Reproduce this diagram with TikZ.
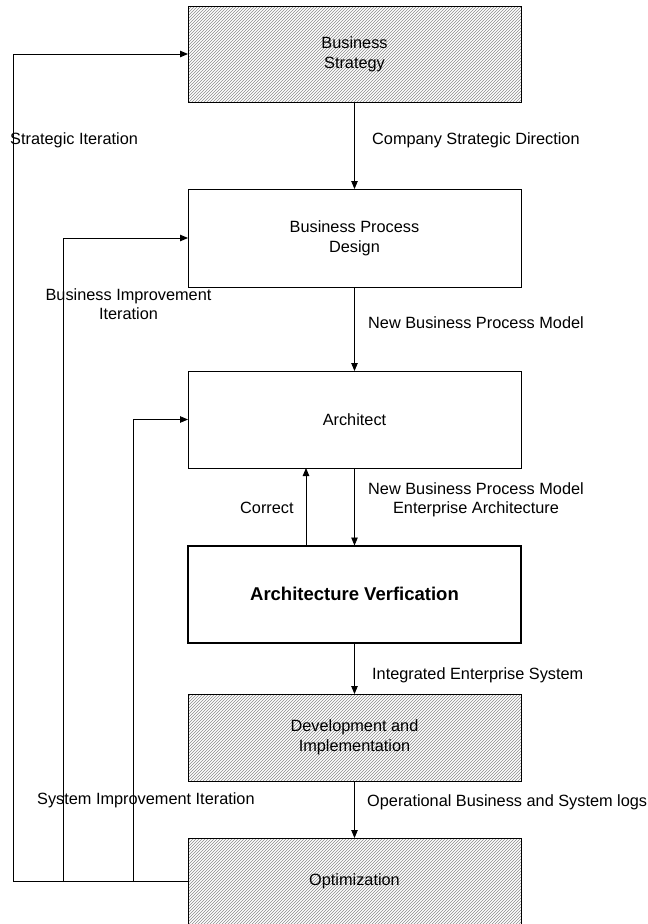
\documentclass[tikz,border=0pt]{standalone}
\usepackage{fontspec}
\setmainfont{Liberation Sans}
\usetikzlibrary{patterns,arrows.meta}
\begin{document}
\begin{tikzpicture}[x=1pt,y=-1pt,
  box/.style={draw=black, line width=1pt, minimum width=333pt, inner sep=0pt, outer sep=0pt, align=center, font=\fontsize{16.3}{20}\selectfont},
  hatch/.style={box, pattern=north east lines, pattern color=black!45},
  arr/.style={line width=0.9pt, -{Triangle[length=8pt,width=6.5pt]}},
  ln/.style={line width=0.9pt},
  lbl/.style={inner sep=0pt, align=center, font=\fontsize{16.3}{19}\selectfont}
]
\fill[white] (0,0) rectangle (648,924);
\useasboundingbox (0,0) rectangle (648,924);

\node[hatch, minimum height=96pt] (bs) at (354.5,54) {Business\\Strategy};
\node[box, minimum height=98pt] (bpd) at (354.5,238) {Business Process\\Design};
\node[box, minimum height=97pt] (arch) at (354.5,419.5) {Architect};
\node[box, line width=2pt, minimum height=97pt, font=\fontsize{18.5}{22}\selectfont\bfseries] (ver) at (354.5,594) {Architecture Verfication};
\node[hatch, minimum height=87pt] (dev) at (354.5,737.5) {Development and\\Implementation};
\node[hatch, minimum height=86pt] (opt) at (354.5,881) {Optimization};

% main flow
\draw[arr] (bs) -- (bpd);
\draw[arr] (bpd) -- (arch);
\draw[arr] (arch) -- (ver);
\draw[arr] (ver) -- (dev);
\draw[arr] (dev) -- (opt);

% correct
\coordinate (cx) at (306,0);
\draw[arr] (ver.north -| cx) -- (arch.south -| cx);

% feedback loops
\coordinate (l1) at (13,0);
\coordinate (l2) at (63,0);
\coordinate (l3) at (133,0);
\draw[ln] (opt.west) -- (opt.west -| l1);
\draw[arr] (opt.west -| l1) |- (bs.west);
\draw[arr] (opt.west -| l2) |- (bpd.west);
\draw[arr] (opt.west -| l3) |- (arch.west);

% labels
\node[lbl, anchor=west] (t1) at (10,140) {Strategic Iteration};
\node[lbl, anchor=west] (t2) at (372,140) {Company Strategic Direction};
\node[lbl] (t3) at (128.5,304) {Business Improvement\\Iteration};
\node[lbl, anchor=west] (t4) at (368,323) {New Business Process Model};
\node[lbl, anchor=west] (t5) at (368,500) {New Business Process Model\\Enterprise Architecture};
\node[lbl, anchor=west] (t6) at (240,508) {Correct};
\node[lbl, anchor=west] (t7) at (372,675) {Integrated Enterprise System};
\node[lbl, anchor=west] (t8) at (37,800) {System Improvement Iteration};
\node[lbl, anchor=west] (t9) at (367,802) {Operational Business and System logs};
\end{tikzpicture}
\end{document}
